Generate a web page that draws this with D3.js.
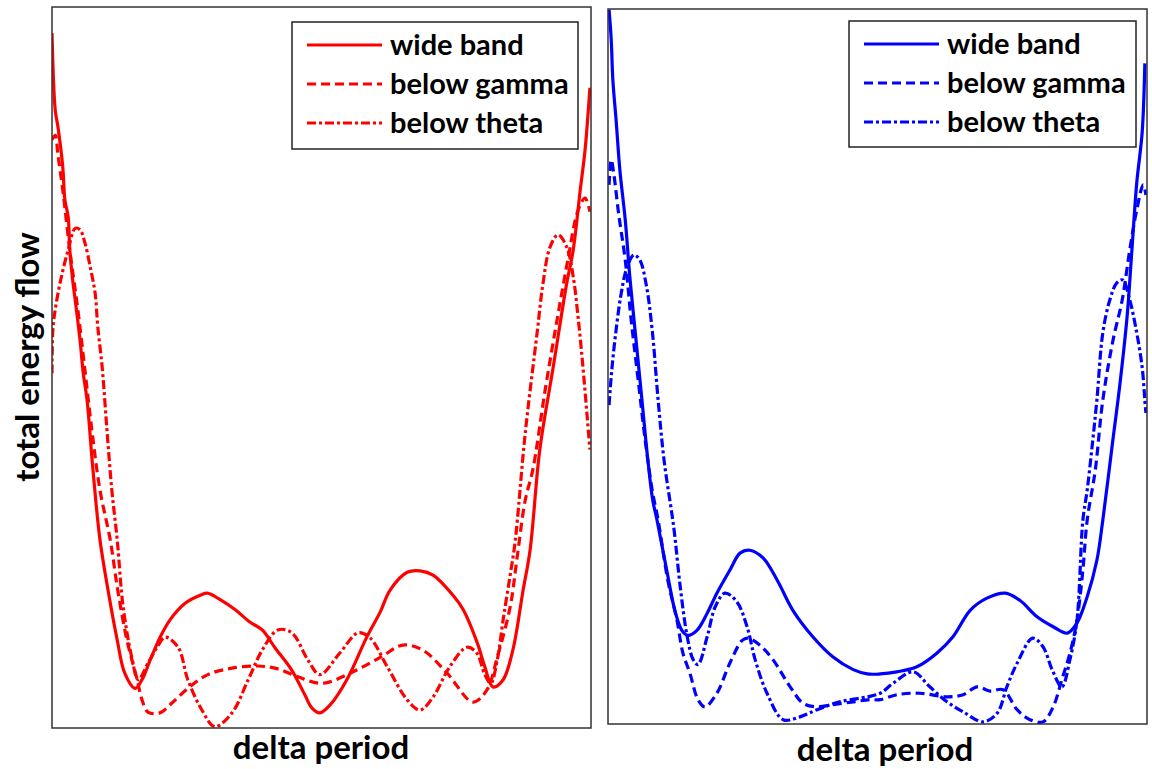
<!DOCTYPE html>
<html>
<head>
<meta charset="utf-8">
<script src="https://cdn.jsdelivr.net/npm/d3@7"></script>
<style>
  body { margin: 0; background: #fff; }
  text { font-family: Lato, "Open Sans", sans-serif; font-weight: 700; fill: #000; }
</style>
</head>
<body>
<svg id="chart" width="1152" height="769"></svg>
<script>
// series names (legend order)
var seriesNames = ["wide band", "below gamma", "below theta"]
var xLabel = "delta period"
var yLabel = "total energy flow"

// left panel (red) - [delta period %, energy %]
var redWide = [[0,96.4],[0.6,85.7],[1.1,83.4],[2.0,77.8],[2.4,73.2],[3.0,70.9],[3.3,66.3],[3.9,61.7],[4.3,59.4],[5.2,53.8],[5.8,49.2],[6.5,45.5],[7.6,35.8],[8.9,26.1],[10.4,19.1],[12.1,12.2],[13.5,7.6],[15.4,5.5],[16.7,6.7],[18.2,9.4],[20.0,12.5],[21.9,15.0],[24.7,17.3],[27.5,18.4],[28.8,18.7],[31.2,17.8],[34.0,16.4],[36.7,14.7],[39.0,13.6],[41.4,11.1],[44.5,8.0],[46.9,4.6],[48.2,2.8],[49.7,2.1],[51.6,3.2],[54.7,6.7],[58.4,12.6],[60.9,16.1],[62.7,19.1],[65.9,21.6],[68.3,21.8],[70.7,21.2],[74.4,18.4],[76.3,16.4],[78.9,11.8],[80.3,8.5],[81.8,5.7],[83.7,6.7],[85.5,10.8],[87.4,19.1],[88.7,24.7],[90.5,38.6],[93.0,50.1],[95.5,61.7],[96.7,66.3],[98.0,74.6],[98.9,80.2],[99.8,88.8]]
var redGamma = [[0,81.6],[0.6,82.2],[1.1,79.5],[2.0,74.6],[3.3,66.3],[4.8,58.0],[6.1,49.7],[7.4,41.3],[8.9,33.0],[10.8,26.1],[12.2,19.1],[13.9,12.2],[15.8,6.7],[16.7,3.9],[17.8,2.2],[20.0,2.1],[22.3,3.5],[25.2,5.5],[28.9,7.4],[33.4,8.3],[38.2,8.6],[41.9,8.2],[45.6,7.1],[50.1,6.2],[55.3,7.6],[60.9,9.8],[65.1,11.5],[68.8,10.8],[73.3,7.6],[78.1,3.6],[80.7,5.3],[82.6,9.8],[85.0,16.8],[86.3,23.7],[87.8,31.6],[89.2,35.8],[91.5,46.9],[93.7,56.6],[95.7,64.9],[97.6,71.8],[98.9,73.5],[99.8,71.6]]
var redTheta = [[0,49.2],[0.2,55.6],[0.9,59.4],[1.9,63.1],[3.0,66.3],[4.3,69.3],[5.2,69.1],[6.1,67.3],[7.1,63.9],[8.0,60.3],[8.5,55.6],[9.3,50.1],[10.2,41.3],[11.1,33.0],[12.1,26.1],[13.2,16.8],[14.8,9.8],[16.0,6.7],[17.8,9.0],[19.5,11.2],[21.0,12.6],[23.4,11.2],[25.2,6.7],[27.8,2.5],[30.2,0.2],[33.4,2.1],[36.4,6.7],[39.0,10.8],[41.9,13.6],[44.5,13.2],[47.5,9.4],[49.7,7.4],[53.4,10.4],[56.8,13.2],[59.0,12.5],[62.2,8.5],[65.9,3.9],[68.3,2.5],[70.7,4.3],[73.8,8.5],[77.0,11.2],[78.8,10.4],[80.3,7.4],[81.4,6.2],[82.6,9.4],[83.7,15.0],[85.0,21.2],[85.9,25.7],[87.8,40.9],[90.0,54.8],[91.1,61.7],[92.4,66.7],[93.9,68.4],[95.5,66.7],[96.7,62.6],[97.6,57.0],[98.5,50.1],[99.3,43.1],[99.8,38.6]]

// right panel (blue)
var blueWide = [[0.2,99.9],[0.6,95.7],[0.9,90.1],[1.5,84.5],[2.2,77.5],[3.2,70.5],[4.1,62.1],[5.2,53.7],[6.3,45.3],[7.4,36.9],[8.3,31.3],[9.1,28.5],[10.9,21.5],[12.4,15.9],[13.7,13.1],[14.8,12.4],[16.5,13.1],[18.4,15.5],[20.2,18.3],[22.6,21.5],[24.5,23.9],[26.3,24.3],[28.8,23.2],[31.4,20.1],[34.3,15.9],[38.0,12.2],[41.7,9.4],[45.5,7.6],[48.1,7.0],[50.5,7.0],[53.6,7.3],[57.3,8.0],[61.0,9.9],[64.0,12.2],[67.2,15.9],[70.3,17.6],[73.7,18.3],[76.4,17.3],[79.6,15.0],[82.6,13.6],[85.2,12.7],[87.0,14.1],[88.9,17.8],[90.7,22.9],[91.8,28.5],[93.5,38.7],[95.0,47.7],[96.3,56.9],[97.2,66.3],[98.1,75.7],[99.1,82.7],[99.6,92.4]]
var blueGamma = [[0.2,75.4],[0.6,78.9],[1.1,76.8],[2.0,71.2],[3.2,64.9],[4.3,56.5],[5.6,48.1],[6.9,39.7],[8.2,32.7],[9.3,28.5],[11.1,20.1],[12.8,14.5],[13.9,9.9],[15.2,7.1],[16.7,3.4],[18.0,2.4],[20.2,4.3],[22.6,8.5],[24.9,11.7],[26.0,12.0],[28.2,11.0],[30.6,9.0],[33.8,5.2],[36.2,2.9],[38.8,2.4],[41.7,2.7],[45.5,3.1],[48.6,3.4],[50.5,3.4],[53.6,4.1],[57.9,4.3],[62.9,3.8],[65.9,4.1],[68.5,5.2],[70.9,4.6],[73.3,4.8],[75.9,2.0],[78.3,0.6],[80.7,0.3],[82.6,2.4],[84.2,6.2],[85.7,9.9],[87.0,14.5],[88.1,21.5],[88.9,28.5],[90.4,35.5],[91.8,45.3],[93.7,53.7],[95.4,59.3],[96.8,66.3],[98.1,71.9],[99.3,75.4],[99.8,74.0]]
var blueTheta = [[0.2,44.6],[0.7,49.5],[1.5,55.1],[2.4,60.0],[3.5,63.8],[4.8,65.6],[5.9,64.9],[7.1,61.4],[8.2,55.1],[9.3,45.3],[10.4,36.9],[12.2,27.5],[13.4,19.2],[14.7,12.2],[15.8,9.0],[16.7,8.3],[18.4,12.2],[19.9,16.4],[21.7,18.3],[23.9,17.1],[25.8,13.6],[27.3,9.0],[29.5,4.3],[32.5,0.6],[35.6,1.0],[38.8,2.0],[43.0,3.1],[48.1,3.8],[50.5,4.3],[52.9,5.7],[56.6,7.3],[59.7,5.2],[62.9,3.1],[65.9,1.7],[69.6,0.3],[72.2,1.5],[74.0,5.2],[75.9,8.5],[78.8,12.0],[80.7,10.8],[82.4,7.6],[84.2,5.2],[85.7,9.0],[87.0,14.5],[88.1,28.5],[88.9,32.7],[89.8,38.7],[90.7,45.3],[91.8,54.7],[93.1,59.3],[94.4,61.7],[95.5,62.1],[96.8,59.3],[98.1,54.7],[99.1,49.9],[99.6,45.3],[99.8,43.5]]

var svg = d3.select("#chart")

var panels = [
    {id: "l", color: "#ff0000", series: [redWide, redGamma, redTheta],
     left: 52, right: 591, top: 7, bottom: 728, legend: {x: 292, y: 22, w: 286, h: 127}, labelX: 321, labelY: 759},
    {id: "r", color: "#0000ff", series: [blueWide, blueGamma, blueTheta],
     left: 608, right: 1147, top: 9, bottom: 724, legend: {x: 849, y: 21, w: 287, h: 126}, labelX: 885, labelY: 761}
]

var dashes = [null, "9,5", "9,3,3,3"]

panels.forEach(function(p){
    var xScale = d3.scaleLinear().domain([0, 100]).range([p.left, p.right])
    var yScale = d3.scaleLinear().domain([0, 100]).range([p.bottom, p.top])

    svg.append("clipPath").attr("id", "clip-" + p.id)
        .append("rect")
        .attr("x", p.left).attr("y", p.top)
        .attr("width", p.right - p.left).attr("height", p.bottom - p.top)

    var line = d3.line()
        .x(d => xScale(d[0]))
        .y(d => yScale(d[1]))
        .curve(d3.curveCatmullRom.alpha(0.5))

    var g = svg.append("g").attr("clip-path", "url(#clip-" + p.id + ")")
    // draw theta first so the wide band sits on top
    g.selectAll("path")
        .data(p.series.map((s, i) => ({s: s, i: i})).reverse())
        .enter()
        .append("path")
        .attr("d", d => line(d.s))
        .attr("fill", "none")
        .attr("stroke", p.color)
        .attr("stroke-width", 3.2)
        .attr("stroke-linejoin", "round")
        .attr("stroke-dasharray", d => dashes[d.i])

    // frame
    svg.append("rect")
        .attr("x", p.left).attr("y", p.top)
        .attr("width", p.right - p.left).attr("height", p.bottom - p.top)
        .attr("fill", "none")
        .attr("stroke", "#333")
        .attr("stroke-width", 1.5)

    //legend
    var lg = svg.append("g")
    lg.append("rect")
        .attr("x", p.legend.x).attr("y", p.legend.y)
        .attr("width", p.legend.w).attr("height", p.legend.h)
        .attr("fill", "#fff")
        .attr("stroke", "#222")
        .attr("stroke-width", 1.5)

    var rowY = d3.scalePoint().domain(seriesNames).range([p.legend.y + 23, p.legend.y + 101])

    lg.selectAll("line")
        .data(seriesNames)
        .enter()
        .append("line")
        .attr("x1", p.legend.x + 15)
        .attr("x2", p.legend.x + 90)
        .attr("y1", d => rowY(d))
        .attr("y2", d => rowY(d))
        .attr("stroke", p.color)
        .attr("stroke-width", 3.2)
        .attr("stroke-dasharray", (d, i) => dashes[i])

    lg.selectAll("text")
        .data(seriesNames)
        .enter()
        .append("text")
        .attr("x", p.legend.x + 98)
        .attr("y", d => rowY(d) + 10)
        .attr("font-size", 29)
        .text(d => d)

    svg.append("text")
        .attr("x", p.labelX)
        .attr("y", p.labelY)
        .attr("text-anchor", "middle")
        .attr("font-size", 33)
        .text(xLabel)
})

svg.append("text")
    .attr("transform", "translate(39,357) rotate(-90)")
    .attr("text-anchor", "middle")
    .attr("font-size", 33)
    .text(yLabel)
</script>
</body>
</html>
